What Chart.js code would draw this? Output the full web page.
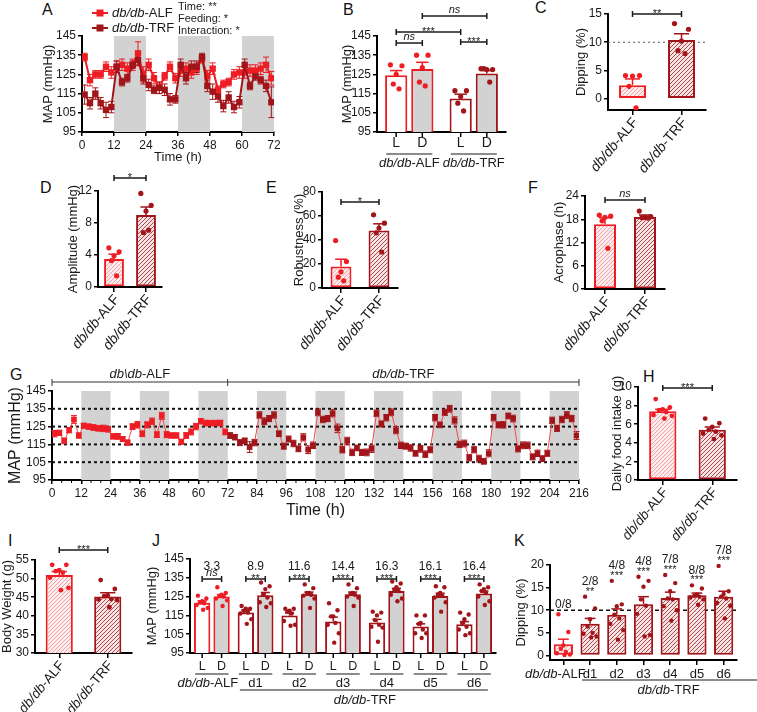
<!DOCTYPE html>
<html>
<head>
<meta charset="utf-8">
<script src="https://cdn.jsdelivr.net/npm/chart.js@4.4.0/dist/chart.umd.min.js"></script>
<style>
  body { margin: 0; width: 757px; height: 712px; position: relative; overflow: hidden; background: #fff;
         font-family: "Liberation Sans", Arial, sans-serif; }
  canvas { position: absolute; }
  .lab { position: absolute; font-size: 16px; line-height: 16px; color: #111; }
</style>
</head>
<body>
<div class="lab" style="left:42px;top:2px">A</div>
<div class="lab" style="left:343px;top:2px">B</div>
<div class="lab" style="left:535px;top:0px">C</div>
<div class="lab" style="left:40px;top:180px">D</div>
<div class="lab" style="left:266px;top:180px">E</div>
<div class="lab" style="left:528px;top:180px">F</div>
<div class="lab" style="left:10px;top:367px">G</div>
<div class="lab" style="left:643px;top:369px">H</div>
<div class="lab" style="left:8px;top:533px">I</div>
<div class="lab" style="left:152px;top:533px">J</div>
<div class="lab" style="left:514px;top:533px">K</div>
<script>
const FONT = '"Liberation Sans", Arial, sans-serif';
const RED = "#ee1d23";
const DRED = "#a11419";
const GREY = "#d2d2d2";
const INK = "#1a1a1a";

// ---------- data ----------
// A: 72 h MAP, ALF vs TRF
const aHours = [1,3,5,7,9,11,13,15,17,19,21,23,25,27,29,31,33,35,37,39,41,43,45,47,49,51,53,55,57,59,61,63,65,67,69,71];
const aAlf = [134,122,125,125,129,126,129,130,128,130,136,125,130,123,118,124,129,123,127,128,126,128,133,124,128,117,120,121,125,126,126,127,127,128,130,123];
const aAlfSem = [2,3,2,2,2.5,3,3,3,3,3,6,4,3,3,3,2,2.5,2.5,3,3,3,3,2,3,3,2,2,2,2.5,3,3,3,3,3,4,3.5];
const aTrf = [114.5,110,115,110,106.5,108,129,121,123,130,132.5,123,119.5,117,118,117,112,112,130,123,129,129,134,119,116,113.5,108.5,113,108,110.5,130,119,124,122,119,110.5];
const aTrfSem = [5,3,3,3,4,3,3,2,2,2,3,3,3,2,3,3,3,2,3,3,3,3,2,3,4,3,3,3,3,3,3,2,2,2,3,8];
const aBands = [[12, 24], [36, 48], [60, 72]];
const aStats = ["Time: **", "Feeding: *", "Interaction: *"];

// B: light / dark MAP
const bGroups = ["db/db-ALF", "db/db-TRF"];
const bPhase = ["L", "D"];
const bLight = [124.5, 112.5];
const bLightSem = [2.5, 2.2];
const bLightDots = [[130, 129.5, 125, 120, 117.5], [116.5, 116.5, 113.5, 110, 106]];
const bDark = [127.8, 125.5];
const bDarkSem = [3.5, 1.5];
const bDarkDots = [[135, 135, 128.5, 121, 119], [128, 127.5, 127.5, 128, 121]];

// C - F, H, I: two-group summaries
const grpLabels = ["db/db-ALF", "db/db-TRF"];
const cMean = [2.4, 10.4], cSem = [1.1, 1.1];
const cDots = [[4.1, 4.1, 4.0, 2.2, -1.6], [13.3, 12.3, 10.2, 8.5, 8.0]];
const dMean = [3.5, 9.0], dSem = [0.6, 1.0];
const dDots = [[4.9, 4.4, 3.9, 3.3, 1.4], [11.7, 10.2, 9.5, 6.8, 7.1]];
const eMean = [18, 48], eSem = [6, 5.5];
const eDots = [[39.5, 22, 13.5, 9, 6], [61, 54, 50, 46, 30]];
const fMean = [16.7, 18.6], fSem = [1.7, 0.5];
const fDots = [[19.1, 18.8, 18.5, 17.6, 10.5], [20.1, 18.7, 18.5, 18.4, 18.3]];
const hMean = [7.4, 5.4], hSem = [0.2, 0.3];
const hDots = [[8.7, 7.8, 7.6, 7.5, 7.3, 7.0, 6.9, 6.6], [6.6, 6.1, 5.7, 5.4, 5.2, 5.0, 4.8, 4.4]];
const iMean = [51, 45.2], iSem = [0.9, 1.0];
const iDots = [[53.7, 53.7, 52.3, 52.0, 51.6, 50.3, 47.5, 46.9], [49.6, 47.2, 45.5, 45.3, 44.5, 44.4, 44.2, 42.3]];

// G: 216 h MAP
const gHours = [1,3,5,7,9,11,13,15,17,19,21,23,25,27,29,31,33,35,37,39,41,43,45,47,49,51,53,55,57,59,61,63,65,67,69,71,73,75,77,79,81,83,85,87,89,91,93,95,97,99,101,103,105,107,109,111,113,115,117,119,121,123,125,127,129,131,133,135,137,139,141,143,145,147,149,151,153,155,157,159,161,163,165,167,169,171,173,175,177,179,181,183,185,187,189,191,193,195,197,199,201,203,205,207,209,211,213,215];
const gMap = [
  121,121.5,117,123,129,120, 125.5,125,124.5,124,124,123.5,
  119.5,119.5,118,116,125,126, 121,126,128,120.5,131,120.5,
  120,120,116.5,120,122,125, 128,127,127,127,127,122,
  120,119,116,117,113.5,116, 131.5,128,129.5,131.5,121,114,
  118,115.5,112.5,119,112,114.5, 133,129,129.5,132.5,124,112,
  117,110.5,113,110.5,110.5,112.5, 132.5,126.5,130,133,123,114.5,
  114,113,110,112.5,109.5,112, 130,126,133,135,128.5,115,
  115.5,107.5,112,107,105.5,110, 130,126,126,131,129.5,112.5,
  114.5,114.5,108,110,107,110, 128.5,124,129,131.5,129.5,120
];
const gSem = [
  1.8,1.5,1.6,1.5,2.2,1.5, 1.4,1.5,1.6,1.5,1.8,1.6,
  1.5,1.6,1.4,1.5,1.6,1.8, 1.6,1.7,1.8,1.6,2.0,1.7,
  1.5,1.5,1.4,1.6,1.7,1.8, 1.5,1.6,1.5,1.5,1.6,1.6,
  1.6,1.5,1.7,1.6,3.0,1.8, 1.8,1.9,1.7,1.8,1.6,1.7,
  1.7,1.8,1.6,2.0,2.2,1.8, 1.9,1.8,1.7,2.0,2.4,1.8,
  2.0,1.8,1.6,1.7,1.9,2.0, 1.8,1.7,1.8,1.9,2.0,1.8,
  1.7,1.8,1.6,1.9,1.8,1.7, 1.8,1.6,1.7,1.9,2.0,1.8,
  1.9,1.8,1.7,1.9,1.6,2.0, 1.8,1.7,1.8,1.6,1.9,1.7,
  1.9,1.8,1.7,1.8,1.6,1.7, 1.8,1.7,1.8,1.9,1.8,2.2
];
const gBands = [[12,24],[36,48],[60,72],[84,96],[108,120],[132,144],[156,168],[180,192],[204,216]];
const gRefLines = [105, 115, 125, 135];
const gPhaseLabels = ["db\\db-ALF", "db/db-TRF"];
const gPhaseEdges = [0, 72, 216];
const gMinorStep = 4;

// J: light / dark MAP per day
const jGroups = ["db/db-ALF", "d1", "d2", "d3", "d4", "d5", "d6"];
const jLight = [121.7, 116.5, 114.9, 111.8, 111.2, 109.1, 110.3];
const jLightSem = [1.0, 1.3, 1.4, 2.3, 1.7, 1.4, 1.4];
const jDark = [125, 125.7, 126.2, 126.2, 128, 125.3, 126.7];
const jDarkSem = [1.0, 1.5, 1.2, 1.2, 1.4, 1.5, 1.3];
const jLightDots = [
  [125.5,124,122.5,122,121.5,120.5,119,118],
  [120,118.5,118.5,117.5,116.5,116,113,110.5],
  [118.5,118.5,117.5,117,116,112,110,109.5],
  [121.5,117.7,114.5,114.5,111,110,105.5,100.5],
  [117,116.5,115,112.5,110,109,108.5,101],
  [115,115,111,110.5,107.5,105.5,105.5,103],
  [116.5,115.5,113,111,109,107.5,105.5,104.5]
];
const jDarkDots = [
  [130,127,126,125.5,125,124,123,120],
  [132.5,130.5,129,126,124.5,122,121.5,119.5],
  [131.5,129.5,127,127,126,125.5,124,119],
  [131.5,129.5,127,126.5,126,125,124.5,120],
  [133,132,130,128.5,128,126,124,122.5],
  [130.5,130,127,126,125.5,124.5,122,117],
  [131.5,130,129,128,127,125,122.5,120.5]
];
const jDip = ["3.3", "8.9", "11.6", "14.4", "16.3", "16.1", "16.4"];
const jSig = ["ns", "**", "***", "***", "***", "***", "***"];

// K: dipping per day
const kGroups = ["db/db-ALF", "d1", "d2", "d3", "d4", "d5", "d6"];
const kMean = [2.5, 7.0, 9.0, 11.3, 12.7, 13.3, 13.0];
const kSem = [1.1, 1.2, 1.3, 1.7, 1.3, 0.5, 1.2];
const kDots = [
  [9.1,5.2,2.2,1.5,0.8,0.5,0.2,0.1],
  [13.0,10.4,8.0,6.4,5.0,4.8,4.2,4.0],
  [16.5,11.3,10.9,9.0,8.2,7.0,5.6,3.5],
  [17.4,16.5,15.2,12.4,11.0,9.2,4.5,4.2],
  [17.8,16.0,14.2,12.6,12.4,10.9,10.0,7.7],
  [15.5,14.8,13.5,13.2,13.0,12.8,12.4,11.2],
  [19.8,14.2,13.6,13.0,12.6,11.6,11.0,8.2]
];
const kFrac = ["0/8", "2/8", "4/8", "4/8", "7/8", "8/8", "7/8"];
const kSig = ["", "**", "***", "***", "***", "***", "***"];

// ---------- helpers ----------
function hatch(bg, fg, gap) {
  const c = document.createElement("canvas");
  c.width = gap; c.height = gap;
  const g = c.getContext("2d");
  g.fillStyle = bg; g.fillRect(0, 0, gap, gap);
  g.strokeStyle = fg; g.lineWidth = 1;
  g.beginPath();
  g.moveTo(0, gap); g.lineTo(gap, 0);
  g.moveTo(-1, 1); g.lineTo(1, -1);
  g.moveTo(gap - 1, gap + 1); g.lineTo(gap + 1, gap - 1);
  g.stroke();
  return g.createPattern(c, "repeat");
}
const patAlf = hatch("#fdeced", "#f3a3a5", 4);
const patTrf = hatch("#f6e3e3", "#b4474b", 4);

function line(ctx, x1, y1, x2, y2) {
  ctx.beginPath(); ctx.moveTo(x1, y1); ctx.lineTo(x2, y2); ctx.stroke();
}

// italic genotype prefix + upright suffix
function dbText(ctx, x, y, label, size, align) {
  const k = label.indexOf("-");
  const pre = k > 0 ? label.slice(0, k) : "";
  const post = k > 0 ? label.slice(k) : label;
  ctx.font = "italic " + size + "px " + FONT;
  const w1 = ctx.measureText(pre).width;
  ctx.font = size + "px " + FONT;
  const w2 = ctx.measureText(post).width;
  let x0 = x;
  if (align === "center") x0 = x - (w1 + w2) / 2;
  if (align === "right") x0 = x - w1 - w2;
  ctx.textAlign = "left"; ctx.textBaseline = "middle"; ctx.fillStyle = INK;
  ctx.font = "italic " + size + "px " + FONT;
  ctx.fillText(pre, x0, y);
  ctx.font = size + "px " + FONT;
  ctx.fillText(post, x0 + w1, y);
}

function txt(ctx, s, x, y, size, opts) {
  opts = opts || {};
  ctx.font = (opts.italic ? "italic " : "") + (opts.bold ? "bold " : "") + size + "px " + FONT;
  ctx.fillStyle = INK;
  ctx.textAlign = opts.align || "center";
  ctx.textBaseline = opts.base || "middle";
  ctx.fillText(s, x, y);
}

function bracket(ctx, x1, x2, y, sig) {
  ctx.save();
  ctx.strokeStyle = INK; ctx.lineWidth = 1.5;
  line(ctx, x1, y, x2, y);
  line(ctx, x1, y - 3, x1, y + 3);
  line(ctx, x2, y - 3, x2, y + 3);
  if (sig === "ns") txt(ctx, "ns", (x1 + x2) / 2, y - 3, 11, { italic: true, base: "alphabetic" });
  else txt(ctx, sig, (x1 + x2) / 2, y + 3, 11, { base: "alphabetic" });
  ctx.restore();
}

const JIT = [-0.26, 0.26, 0, -0.13, 0.13, -0.34, 0.34, 0.06];
function barMarks(c, r) {
  const ctx = c.ctx, ys = c.scales.y;
  c.data.datasets.forEach((ds, di) => {
    const meta = c.getDatasetMeta(di);
    meta.data.forEach((bar, i) => {
      const col = Array.isArray(ds.borderColor) ? ds.borderColor[i] : ds.borderColor;
      const w = bar.width;
      if (ds.sem) {
        const y1 = ys.getPixelForValue(ds.data[i] + ds.sem[i]);
        ctx.strokeStyle = col; ctx.lineWidth = 1.5;
        line(ctx, bar.x, bar.y, bar.x, y1);
        line(ctx, bar.x - w * 0.28, y1, bar.x + w * 0.28, y1);
      }
      if (ds.dots) {
        ctx.fillStyle = col;
        ds.dots[i].forEach((v, k) => {
          ctx.beginPath();
          ctx.arc(bar.x + JIT[k % JIT.length] * w, ys.getPixelForValue(v), r || 2.6, 0, Math.PI * 2);
          ctx.fill();
        });
      }
    });
  });
}

function lineErr(c) {
  const ctx = c.ctx, ys = c.scales.y;
  c.data.datasets.forEach((ds, di) => {
    if (!ds.sem) return;
    c.getDatasetMeta(di).data.forEach((pt, i) => {
      const v = ds.data[i].y;
      const col = Array.isArray(ds.pointBackgroundColor) ? ds.pointBackgroundColor[i] : ds.borderColor;
      ctx.strokeStyle = col; ctx.lineWidth = 1;
      const y1 = ys.getPixelForValue(v + ds.sem[i]), y2 = ys.getPixelForValue(v - ds.sem[i]);
      line(ctx, pt.x, y1, pt.x, y2);
      line(ctx, pt.x - 3, y1, pt.x + 3, y1);
      line(ctx, pt.x - 3, y2, pt.x + 3, y2);
    });
  });
}

function bands(c, list) {
  const ctx = c.ctx, xs = c.scales.x, a = c.chartArea;
  ctx.save(); ctx.fillStyle = GREY;
  list.forEach(b => {
    const x1 = xs.getPixelForValue(b[0]), x2 = xs.getPixelForValue(b[1]);
    ctx.fillRect(x1, a.top, x2 - x1, a.bottom - a.top);
  });
  ctx.restore();
}

function hLine(c, v, color, dash, width) {
  const ctx = c.ctx, y = c.scales.y.getPixelForValue(v), a = c.chartArea;
  ctx.save(); ctx.strokeStyle = color; ctx.lineWidth = width; ctx.setLineDash(dash);
  line(ctx, a.left, y, a.right, y);
  ctx.restore();
}

function rotLabels(c, size) {
  const ctx = c.ctx, xs = c.scales.x, yb = c.chartArea.bottom;
  c.data.labels.forEach((lab, i) => {
    const px = xs.getPixelForValue(i);
    ctx.save();
    ctx.translate(px + 3, yb + 10);
    ctx.rotate(-50 * Math.PI / 180);
    dbText(ctx, 0, 0, lab, size, "right");
    ctx.restore();
  });
}

function yAxis(min, max, step, title, size) {
  return {
    type: "linear", min: min, max: max,
    border: { color: "#000", width: 2 },
    grid: { drawOnChartArea: false, drawTicks: true, tickLength: 4, color: "#000", lineWidth: 1.5 },
    ticks: { stepSize: step, includeBounds: false, font: { family: FONT, size: 12 }, color: INK, padding: 2 },
    title: { display: true, text: title, font: { family: FONT, size: size || 13 }, color: INK, padding: 0 }
  };
}
function xLinear(min, max, step, title, size) {
  return {
    type: "linear", min: min, max: max,
    border: { color: "#000", width: 2 },
    grid: { drawOnChartArea: false, drawTicks: true, tickLength: 4, color: "#000", lineWidth: 1.5 },
    ticks: { stepSize: step, maxRotation: 0, font: { family: FONT, size: 12 }, color: INK, padding: 2 },
    title: { display: true, text: title, font: { family: FONT, size: size || 13 }, color: INK, padding: 0 }
  };
}
function xCat(drawTicks) {
  return {
    type: "category", offset: true,
    border: { color: "#000", width: 2 },
    grid: { offset: false, drawOnChartArea: false, drawTicks: drawTicks, tickLength: 5, color: "#000", lineWidth: 1.5 },
    ticks: { display: false }
  };
}

// area = plot rectangle on the page [l, t, r, b]; pad = room around it [l, t, r, b]
function makeChart(area, pad, cfg) {
  const w = area[2] - area[0] + pad[0] + pad[2];
  const h = area[3] - area[1] + pad[1] + pad[3];
  const cv = document.createElement("canvas");
  cv.width = w; cv.height = h;
  cv.style.left = (area[0] - pad[0]) + "px";
  cv.style.top = (area[1] - pad[1]) + "px";
  cv.style.width = w + "px"; cv.style.height = h + "px";
  document.body.appendChild(cv);
  const o = cfg.options;
  o.responsive = false; o.maintainAspectRatio = false; o.animation = false; o.devicePixelRatio = 1;
  o.layout = { padding: { left: 0, top: pad[1], right: pad[2], bottom: 0 } };
  o.plugins = Object.assign({ legend: { display: false }, tooltip: { enabled: false } }, o.plugins || {});
  const zero = s => { s.paddingLeft = 0; s.paddingRight = 0; s.paddingTop = 0; s.paddingBottom = 0; };
  o.scales.x.afterFit = s => { s.height = pad[3]; zero(s); };
  o.scales.y.afterFit = s => { s.width = pad[0]; zero(s); };
  return new Chart(cv, cfg);
}

function twoBar(area, pad, means, sems, dots, yopt, sig, sigY, barPct, extra) {
  return makeChart(area, pad, {
    type: "bar",
    data: {
      labels: grpLabels,
      datasets: [{
        data: means, sem: sems, dots: dots,
        backgroundColor: [patAlf, patTrf], borderColor: [RED, DRED],
        borderWidth: 2, borderSkipped: false, barPercentage: barPct, categoryPercentage: 1
      }]
    },
    options: { scales: { x: xCat(true), y: yopt } },
    plugins: [{
      id: "deco",
      beforeDatasetsDraw(c) { if (extra) extra(c); },
      afterDatasetsDraw(c) {
        barMarks(c, 2.6);
        const m = c.getDatasetMeta(0).data;
        bracket(c.ctx, m[0].x, m[1].x, c.chartArea.top + sigY, sig);
        rotLabels(c, 14);
      }
    }]
  });
}

// ---------- A ----------
makeChart([82, 36, 274, 132], [41, 36, 20, 33], {
  type: "line",
  data: {
    datasets: [
      { label: "db/db-ALF", data: aHours.map((h, i) => ({ x: h, y: aAlf[i] })), sem: aAlfSem,
        borderColor: RED, backgroundColor: RED, borderWidth: 2, pointStyle: "rect", pointRadius: 4.5,
        pointBorderWidth: 0, order: 2 },
      { label: "db/db-TRF", data: aHours.map((h, i) => ({ x: h, y: aTrf[i] })), sem: aTrfSem,
        borderColor: DRED, backgroundColor: DRED, borderWidth: 2, pointStyle: "rect", pointRadius: 4.5,
        pointBorderWidth: 0, order: 1 }
    ]
  },
  options: { scales: { x: xLinear(0, 72, 12, "Time (h)"), y: yAxis(95, 145, 10, "MAP (mmHg)") } },
  plugins: [{
    id: "deco",
    beforeDatasetsDraw(c) { bands(c, aBands); lineErr(c); },
    afterDraw(c) {
      const ctx = c.ctx, L = c.chartArea.left, T = c.chartArea.top;
      c.data.datasets.forEach((ds, i) => {
        const y = T - 23 + 15 * i;
        ctx.strokeStyle = ds.borderColor; ctx.lineWidth = 2;
        line(ctx, L + 10, y, L + 26, y);
        ctx.fillStyle = ds.borderColor; ctx.fillRect(L + 14.5, y - 3.5, 7, 7);
        dbText(ctx, L + 30, y, ds.label, 13, "left");
      });
      aStats.forEach((s, i) => txt(ctx, s, L + 96, T - 29 + 12 * i, 11, { align: "left" }));
    }
  }]
});

// ---------- B ----------
makeChart([377, 36, 506, 132], [37, 36, 24, 45], {
  type: "bar",
  data: {
    labels: bGroups,
    datasets: [
      { data: bLight, sem: bLightSem, dots: bLightDots, backgroundColor: "#fff", borderColor: [RED, DRED],
        borderWidth: 2, borderSkipped: false, categoryPercentage: 0.81, barPercentage: 0.85 },
      { data: bDark, sem: bDarkSem, dots: bDarkDots, backgroundColor: GREY, borderColor: [RED, DRED],
        borderWidth: 2, borderSkipped: false, categoryPercentage: 0.81, barPercentage: 0.85 }
    ]
  },
  options: { scales: { x: xCat(false), y: yAxis(95, 145, 10, "MAP (mmHg)") } },
  plugins: [{
    id: "deco",
    afterDatasetsDraw(c) {
      barMarks(c, 2.6);
      const ctx = c.ctx, bt = c.chartArea.bottom, top = c.chartArea.top;
      const m0 = c.getDatasetMeta(0).data, m1 = c.getDatasetMeta(1).data;
      ctx.strokeStyle = "#000"; ctx.lineWidth = 1.5;
      [m0, m1].forEach((m, di) => m.forEach(bar => {
        line(ctx, bar.x, bt, bar.x, bt + 5);
        txt(ctx, bPhase[di], bar.x, bt + 11, 14);
      }));
      c.data.labels.forEach((lab, g) => {
        ctx.strokeStyle = INK; ctx.lineWidth = 1.2;
        line(ctx, m0[g].x - 10, bt + 22, m1[g].x + 10, bt + 22);
        dbText(ctx, (m0[g].x + m1[g].x) / 2, bt + 31, lab, 13, "center");
      });
      bracket(ctx, m0[0].x, m1[0].x, top + 7, "ns");
      bracket(ctx, m0[0].x, m0[1].x, top - 4, "***");
      bracket(ctx, m1[0].x, m1[1].x, top - 20, "ns");
      bracket(ctx, m0[1].x, m1[1].x, top + 6, "***");
    }
  }]
});

// ---------- C ----------
twoBar([608, 14, 706, 110], [34, 14, 45, 65], cMean, cSem, cDots, yAxis(-2, 15, 5, "Dipping (%)"), "**", 0, 0.55,
  c => hLine(c, 10, "#555", [2, 3], 1.2));
// ---------- D / E / F ----------
twoBar([98, 191, 162, 287], [32, 25, 20, 83], dMean, dSem, dDots, yAxis(0, 12, 4, "Amplitude (mmHg)"), "*", -13, 0.62);
twoBar([322, 192, 398, 288], [30, 26, 20, 82], eMean, eSem, eDots, yAxis(0, 80, 20, "Robustness (%)"), "*", 10, 0.55);
twoBar([585, 196, 665, 289], [33, 30, 20, 81], fMean, fSem, fDots, yAxis(0, 24, 6, "Acrophase (h)"), "ns", 4, 0.55);

// ---------- G ----------
makeChart([52, 391, 579, 480], [46, 26, 21, 40], {
  type: "line",
  data: {
    datasets: [{
      data: gHours.map((h, i) => ({ x: h, y: gMap[i] })), sem: gSem,
      borderColor: "#ee4a4e", borderWidth: 1, pointStyle: "rect", pointRadius: 4, pointBorderWidth: 0,
      pointBackgroundColor: gHours.map(h => h <= 72 ? RED : DRED)
    }]
  },
  options: { scales: { x: xLinear(0, 216, 12, "Time (h)", 16), y: yAxis(95, 145, 10, "MAP (mmHg)", 16) } },
  plugins: [{
    id: "deco",
    beforeDatasetsDraw(c) {
      bands(c, gBands);
      gRefLines.forEach(v => hLine(c, v, "#111", [3, 3], 2));
      lineErr(c);
    },
    afterDraw(c) {
      const ctx = c.ctx, xs = c.scales.x, y0 = c.chartArea.top - 9, yb = c.chartArea.bottom;
      // minor ticks on the time axis
      ctx.strokeStyle = "#000"; ctx.lineWidth = 1;
      for (let t = xs.min; t <= xs.max; t += gMinorStep) {
        if (t % 12) line(ctx, xs.getPixelForValue(t), yb, xs.getPixelForValue(t), yb + 3);
      }
      ctx.strokeStyle = "#333"; ctx.lineWidth = 1;
      line(ctx, xs.getPixelForValue(gPhaseEdges[0]), y0, xs.getPixelForValue(gPhaseEdges[2]), y0);
      gPhaseEdges.forEach(e => line(ctx, xs.getPixelForValue(e), y0 - 3, xs.getPixelForValue(e), y0 + 4));
      gPhaseLabels.forEach((lab, i) => {
        const mid = (gPhaseEdges[i] + gPhaseEdges[i + 1]) / 2;
        dbText(ctx, xs.getPixelForValue(mid), y0 - 8, lab, 13, "center");
      });
    }
  }]
});

// ---------- H ----------
makeChart([638, 387, 737, 480], [28, 17, 20, 80], {
  type: "bar",
  data: { labels: grpLabels, datasets: [{ data: hMean, sem: hSem, dots: hDots,
    backgroundColor: [patAlf, patTrf], borderColor: [RED, DRED], borderWidth: 2, borderSkipped: false,
    barPercentage: 0.55, categoryPercentage: 1 }] },
  options: { scales: { x: xCat(true), y: yAxis(0, 10, 2, "Daily food intake (g)") } },
  plugins: [{ id: "deco", afterDatasetsDraw(c) {
    barMarks(c, 2.4);
    const m = c.getDatasetMeta(0).data;
    bracket(c.ctx, m[0].x, m[1].x, c.chartArea.top + 1, "***");
    rotLabels(c, 13.5);
  } }]
});

// ---------- I ----------
makeChart([35, 560, 132, 653], [35, 15, 28, 59], {
  type: "bar",
  data: { labels: grpLabels, datasets: [{ data: iMean, sem: iSem, dots: iDots,
    backgroundColor: [patAlf, patTrf], borderColor: [RED, DRED], borderWidth: 2, borderSkipped: false,
    barPercentage: 0.56, categoryPercentage: 1 }] },
  options: { scales: { x: xCat(true), y: yAxis(30, 55, 5, "Body Weight (g)") } },
  plugins: [{ id: "deco", afterDatasetsDraw(c) {
    barMarks(c, 2.4);
    const m = c.getDatasetMeta(0).data;
    bracket(c.ctx, m[0].x, m[1].x, c.chartArea.top - 10, "***");
    rotLabels(c, 13.5);
  } }]
});

// ---------- J ----------
const jCol = jGroups.map((g, i) => i === 0 ? RED : DRED);
makeChart([190, 559, 496, 653], [45, 19, 14, 59], {
  type: "bar",
  data: {
    labels: jGroups,
    datasets: [
      { data: jLight, sem: jLightSem, dots: jLightDots, backgroundColor: "#fff", borderColor: jCol,
        borderWidth: 2, borderSkipped: false, categoryPercentage: 0.89, barPercentage: 0.84 },
      { data: jDark, sem: jDarkSem, dots: jDarkDots, backgroundColor: GREY, borderColor: jCol,
        borderWidth: 2, borderSkipped: false, categoryPercentage: 0.89, barPercentage: 0.84 }
    ]
  },
  options: { scales: { x: xCat(false), y: yAxis(95, 145, 10, "MAP (mmHg)") } },
  plugins: [{
    id: "deco",
    afterDatasetsDraw(c) {
      barMarks(c, 2.2);
      const ctx = c.ctx, bt = c.chartArea.bottom, top = c.chartArea.top;
      const m0 = c.getDatasetMeta(0).data, m1 = c.getDatasetMeta(1).data;
      [m0, m1].forEach((m, di) => m.forEach(bar => {
        ctx.strokeStyle = "#000"; ctx.lineWidth = 1.5;
        line(ctx, bar.x, bt, bar.x, bt + 5);
        txt(ctx, bPhase[di], bar.x, bt + 14, 12.5);
      }));
      c.data.labels.forEach((lab, g) => {
        ctx.strokeStyle = INK; ctx.lineWidth = 1.2;
        line(ctx, m0[g].x - 7, bt + 21, m1[g].x + 7, bt + 21);
        dbText(ctx, (m0[g].x + m1[g].x) / 2 - (g === 0 ? 4 : 0), bt + 30, lab, 13, "center");
        txt(ctx, jDip[g], (m0[g].x + m1[g].x) / 2, top + 8, 12);
        bracket(ctx, m0[g].x, m1[g].x, top + 20, jSig[g]);
      });
      ctx.strokeStyle = INK; ctx.lineWidth = 1.2;
      line(ctx, m0[1].x - 6, bt + 37, m1[6].x + 4, bt + 37);
      dbText(ctx, (m0[1].x + m1[6].x) / 2, bt + 47, "db/db-TRF", 13, "center");
    }
  }]
});

// ---------- K ----------
makeChart([550, 565, 737, 660], [36, 25, 20, 52], {
  type: "bar",
  data: { labels: kGroups, datasets: [{ data: kMean, sem: kSem, dots: kDots,
    backgroundColor: kGroups.map((g, i) => i === 0 ? patAlf : patTrf),
    borderColor: kGroups.map((g, i) => i === 0 ? RED : DRED),
    borderWidth: 2, borderSkipped: false, barPercentage: 0.72, categoryPercentage: 1 }] },
  options: { scales: { x: xCat(true), y: yAxis(-1, 20, 5, "Dipping (%)") } },
  plugins: [{
    id: "deco",
    beforeDatasetsDraw(c) { hLine(c, 10, "#111", [4, 3], 1.5); },
    afterDatasetsDraw(c) {
      barMarks(c, 2.2);
      const ctx = c.ctx, bt = c.chartArea.bottom, ys = c.scales.y;
      const m = c.getDatasetMeta(0).data;
      m.forEach((bar, i) => {
        const yTop = ys.getPixelForValue(Math.max.apply(null, kDots[i]));
        if (kSig[i]) {
          txt(ctx, kSig[i], bar.x, yTop - 2, 11, { base: "alphabetic" });
          txt(ctx, kFrac[i], bar.x, yTop - 15, 12);
        } else {
          txt(ctx, kFrac[i], bar.x, yTop - 10, 12);
        }
        if (i === 0) dbText(ctx, bar.x - 8, bt + 14, c.data.labels[i], 13, "center");
        else txt(ctx, c.data.labels[i], bar.x, bt + 14, 13);
      });
      ctx.strokeStyle = INK; ctx.lineWidth = 1.2;
      line(ctx, m[1].x - 8, bt + 20, c.width, bt + 20);
      dbText(ctx, (m[1].x - 8 + c.chartArea.right + 18) / 2, bt + 30, "db/db-TRF", 13, "center");
    }
  }]
});
</script>
</body>
</html>
